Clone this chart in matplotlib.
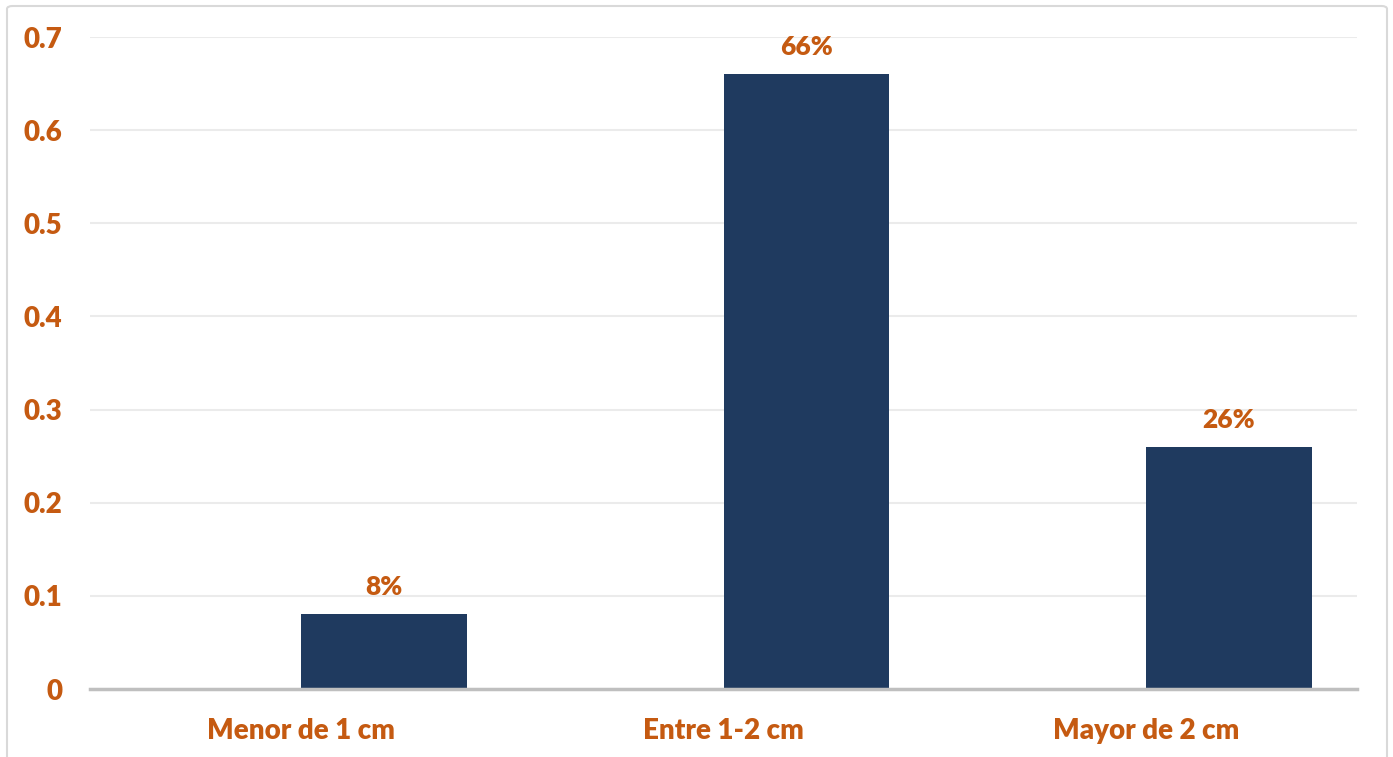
import matplotlib
matplotlib.use("Agg")
import matplotlib.pyplot as plt
from matplotlib.patches import FancyBboxPatch

categories = ["Menor de 1 cm", "Entre 1-2 cm", "Mayor de 2 cm"]
values = [0.08, 0.66, 0.26]
value_labels = ["8%", "66%", "26%"]
yticks = [0, 0.1, 0.2, 0.3, 0.4, 0.5, 0.6, 0.7]
ytick_labels = ["0", "0.1", "0.2", "0.3", "0.4", "0.5", "0.6", "0.7"]

orange = "#C55A11"
navy = "#1F3A5F"

plt.rcParams["font.family"] = ["Lato", "DejaVu Sans"]
plt.rcParams["font.weight"] = "bold"

W, H = 1393, 757
fig = plt.figure(figsize=(W / 100, H / 100), dpi=100)
fig.patch.set_facecolor("white")

# rounded chart-area border
border = FancyBboxPatch((7 / W, -0.05), (1387 - 7) / W, (H - 6) / H + 0.05,
                        boxstyle="round,pad=0,rounding_size=0.004",
                        transform=fig.transFigure, facecolor="none",
                        edgecolor="#D9D9D9", linewidth=1.5)
fig.patches.append(border)

ax = fig.add_axes([90 / W, 1 - 689 / H, (1357 - 90) / W, (689 - 37) / H])

x = list(range(len(categories)))
bars = ax.bar(x, values, width=0.393, align="edge", color=navy, zorder=3)

for b, lab in zip(bars, value_labels):
    ax.annotate(lab, (b.get_x() + b.get_width() / 2, b.get_height()),
                xytext=(0, 11), textcoords="offset points",
                ha="center", va="bottom", color=orange,
                fontsize=19, fontweight="heavy")

ax.set_xlim(-0.5, len(categories) - 0.5)
ax.set_ylim(0, 0.7)
ax.set_yticks(yticks)
ax.set_yticklabels(ytick_labels)
ax.set_xticks(x)
ax.set_xticklabels(categories)
ax.tick_params(axis="both", length=0, labelcolor=orange, labelsize=20)
ax.tick_params(axis="y", pad=20)
ax.tick_params(axis="x", pad=21)
for t in ax.get_xticklabels() + ax.get_yticklabels():
    t.set_fontweight("heavy")

ax.grid(axis="y", color="#EBEBEB", linewidth=1.5, zorder=0)
ax.set_axisbelow(True)
for s in ["top", "right", "left"]:
    ax.spines[s].set_visible(False)
ax.spines["bottom"].set_color("#BFBFBF")
ax.spines["bottom"].set_linewidth(2.5)
ax.spines["bottom"].set_zorder(4)

fig.savefig("out.png", dpi=100)
